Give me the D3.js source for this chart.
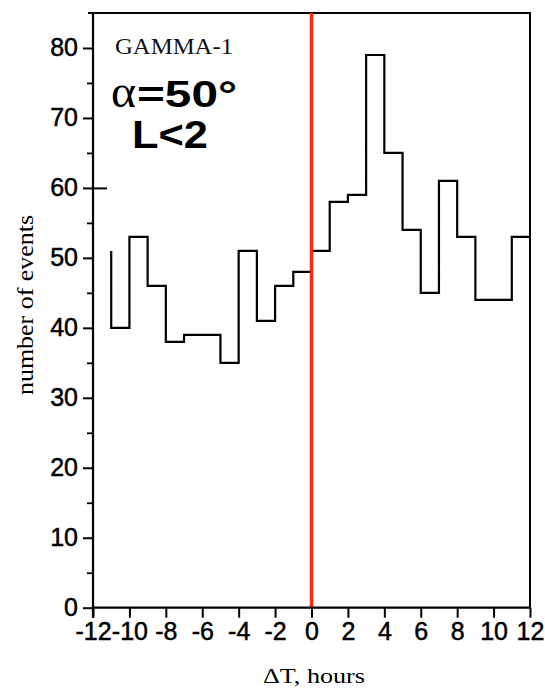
<!DOCTYPE html>
<html>
<head>
<meta charset="utf-8">
<script src="https://cdn.jsdelivr.net/npm/d3@7"></script>
<style>
  html, body { margin: 0; padding: 0; background: #fff; }
  svg { display: block; }
</style>
</head>
<body>
<svg id="chart" width="545" height="691"></svg>
<script>
// ---- data ----
const binStarts = [-11,-10,-9,-8,-7,-6,-5,-4,-3,-2,-1,0,1,2,3,4,5,6,7,8,9,10,11];
const counts    = [40,53,46,38,39,39,35,51,41,46,48,51,58,59,79,65,54,45,61,53,44,44,53];
const leadValue = 51;            // isolated vertical start at the first bin edge
const binWidth = 1;
const xTicks = [-12,-10,-8,-6,-4,-2,0,2,4,6,8,10,12];
const yTicks = [0,10,20,30,40,50,60,70,80];
const yMinorTicks = [5,15,25,35,45,55,65,75];
const yInnerTicks = [60];
const markerX = [0];
const labelTitle = "GAMMA-1";
const labelAlpha = "α";
const labelAngle = "=50°";
const labelL = "L<2";
const xLabel = "ΔT, hours";
const yLabel = "number of events";

// ---- layout ----
const svg = d3.select("#chart");
const x = d3.scaleLinear().domain([-12, 12]).range([93, 530]);
const y = d3.scaleLinear().domain([0, 85]).range([607.7, 13]);

const sans = "'Liberation Sans', Arial, Helvetica, sans-serif";
const serif = "'Liberation Serif', 'Times New Roman', serif";

// frame (top and right)
svg.append("path")
  .attr("d", `M${x(-12)-5},${y(85)}H${x(12)}V${y(0)}`)
  .attr("fill", "none").attr("stroke", "#000").attr("stroke-width", 2);

// histogram step line
const pts = [[binStarts[0], leadValue]];
binStarts.forEach((b, i) => {
  pts.push([b, counts[i]]);
  pts.push([b + binWidth, counts[i]]);
});
svg.append("path")
  .attr("d", d3.line().x(d => x(d[0])).y(d => y(d[1]))(pts))
  .attr("fill", "none").attr("stroke", "#000").attr("stroke-width", 2.2)
  .attr("stroke-linejoin", "miter");

// red marker line
svg.selectAll(".marker").data(markerX).enter().append("line")
  .attr("x1", d => x(d)).attr("x2", d => x(d))
  .attr("y1", y(0)).attr("y2", y(85))
  .attr("stroke", "#ff2a10").attr("stroke-width", 3.5);

// y axis
const yAxis = svg.append("g").attr("transform", `translate(${x(-12)},0)`)
  .call(d3.axisLeft(y).tickValues(yTicks).tickSize(10).tickPadding(5).tickFormat(d => String(d)));
yAxis.select(".domain").attr("d", `M0,${y(85)}V${y(0)+10}`).attr("stroke-width", 2.2);
yAxis.selectAll(".tick line").attr("stroke-width", 2);
yAxis.selectAll(".tick text").attr("font-family", sans).attr("font-size", 25).attr("fill", "#000")
  .attr("stroke", "#000").attr("stroke-width", 0.5);

const yMinor = svg.append("g").attr("transform", `translate(${x(-12)},0)`)
  .call(d3.axisLeft(y).tickValues(yMinorTicks).tickSize(6).tickFormat(""));
yMinor.select(".domain").remove();
yMinor.selectAll(".tick line").attr("stroke-width", 1.8);

const yInner = svg.append("g").attr("transform", `translate(${x(-12)},0)`)
  .call(d3.axisRight(y).tickValues(yInnerTicks).tickSize(14).tickFormat(""));
yInner.select(".domain").remove();
yInner.selectAll(".tick line").attr("stroke-width", 2);

// x axis
const xAxis = svg.append("g").attr("transform", `translate(0,${y(0)})`)
  .call(d3.axisBottom(x).tickValues(xTicks).tickSize(10).tickPadding(5).tickFormat(d => String(d)));
xAxis.select(".domain").attr("d", `M${x(-12)},0H${x(12)}`).attr("stroke-width", 2.2);
xAxis.selectAll(".tick line").attr("stroke-width", 2);
xAxis.selectAll(".tick text").attr("font-family", sans).attr("font-size", 25).attr("fill", "#000")
  .attr("stroke", "#000").attr("stroke-width", 0.5);

// axis titles
svg.append("text")
  .attr("x", 314).attr("y", 683)
  .attr("text-anchor", "middle")
  .attr("font-family", serif).attr("font-size", 22)
  .attr("textLength", 102).attr("lengthAdjust", "spacingAndGlyphs")
  .text(xLabel);

svg.append("text")
  .attr("transform", "translate(33,305) rotate(-90)")
  .attr("text-anchor", "middle")
  .attr("font-family", serif).attr("font-size", 23)
  .attr("textLength", 180).attr("lengthAdjust", "spacingAndGlyphs")
  .text(yLabel);

// annotations
svg.append("text")
  .attr("x", 115).attr("y", 54)
  .attr("font-family", serif).attr("font-size", 23)
  .attr("textLength", 118).attr("lengthAdjust", "spacingAndGlyphs")
  .attr("fill", "#111")
  .text(labelTitle);

svg.append("text")
  .attr("x", 111).attr("y", 107)
  .attr("font-family", serif).attr("font-size", 46)
  .attr("textLength", 25).attr("lengthAdjust", "spacingAndGlyphs")
  .text(labelAlpha);

svg.append("text")
  .attr("x", 137).attr("y", 107)
  .attr("font-family", sans).attr("font-weight", "bold").attr("font-size", 36)
  .attr("textLength", 100).attr("lengthAdjust", "spacingAndGlyphs")
  .text(labelAngle);

svg.append("text")
  .attr("x", 132).attr("y", 148)
  .attr("font-family", sans).attr("font-weight", "bold").attr("font-size", 39)
  .attr("textLength", 76).attr("lengthAdjust", "spacingAndGlyphs")
  .text(labelL);
</script>
</body>
</html>
